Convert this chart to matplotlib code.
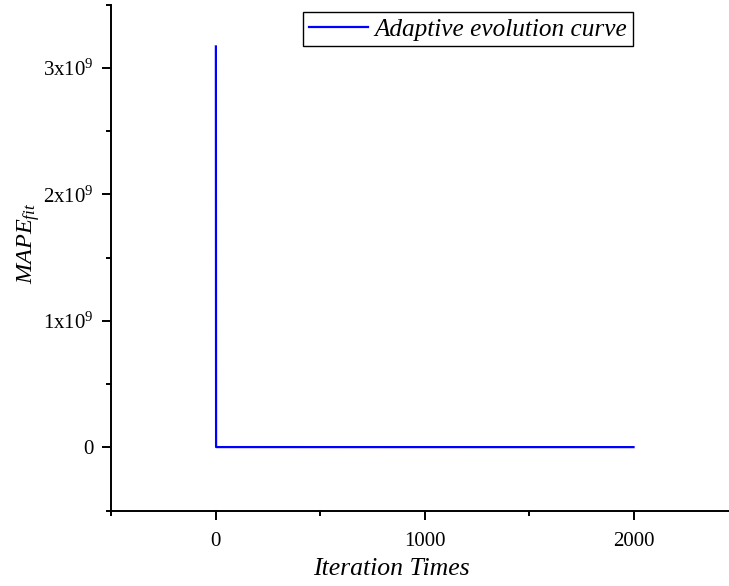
import matplotlib
matplotlib.use("Agg")
import matplotlib.pyplot as plt
from matplotlib.ticker import FixedLocator, MultipleLocator

plt.rcParams['font.family'] = ['Liberation Serif', 'DejaVu Serif']
plt.rcParams['mathtext.fontset'] = 'custom'
plt.rcParams['mathtext.rm'] = 'Liberation Serif'
plt.rcParams['mathtext.it'] = 'Liberation Serif:italic'

# data
iterations = [1, 2, 3, 2000]
mape_fit = [3.17e9, 2.0e6, 1.5e6, 1.2e6]
x_ticks = [0, 1000, 2000]
x_tick_labels = ["0", "1000", "2000"]
y_ticks = [0, 1e9, 2e9, 3e9]
y_tick_labels = ["0", "1x10$^{9}$", "2x10$^{9}$", "3x10$^{9}$"]

fig = plt.figure(figsize=(7.29, 5.86), dpi=100)
W, H = 729, 586
left, right, top, bottom = 111.2, 738.0, 4.7, 510.5
ax = fig.add_axes([left / W, 1 - bottom / H, (right - left) / W, (bottom - top) / H])

ax.plot(iterations, mape_fit, color='#0000ff', lw=1.6, label='Adaptive evolution curve')

ax.set_xlim(-500, 2500)
ax.set_ylim(-0.5e9, 3.5e9)
ax.xaxis.set_major_locator(FixedLocator(x_ticks))
ax.set_xticklabels(x_tick_labels)
ax.xaxis.set_minor_locator(MultipleLocator(500))
ax.yaxis.set_major_locator(FixedLocator(y_ticks))
ax.set_yticklabels(y_tick_labels)
ax.yaxis.set_minor_locator(MultipleLocator(0.5e9))

for s in ['top', 'right']:
    ax.spines[s].set_visible(False)
for s in ['left', 'bottom']:
    ax.spines[s].set_linewidth(1.4)

ax.tick_params(which='major', direction='out', length=6.5, width=1.4, labelsize=15)
ax.tick_params(which='minor', direction='out', length=3.3, width=1.4)
ax.tick_params(axis='x', which='major', pad=9)
ax.tick_params(axis='y', which='major', pad=6)

ax.set_xlabel('Iteration Times', fontsize=18.5, style='italic')
ax.xaxis.set_label_coords(0.447, -0.093)
ax.set_ylabel(r'$\mathit{MAPE}_{\mathit{fit}}$', fontsize=17.5)
ax.yaxis.set_label_coords(-0.11, 0.528)

leg = ax.legend(loc='upper left', bbox_to_anchor=(303 / W, 1 - 12.3 / H),
                bbox_transform=fig.transFigure, borderaxespad=0,
                fancybox=False, framealpha=1, edgecolor='black',
                prop={'family': 'Liberation Serif', 'style': 'italic', 'size': 18.2},
                handlelength=2.35, handletextpad=0.25, borderpad=0.22)
leg.get_frame().set_linewidth(1.0)

fig.savefig('out.png', dpi=100)
